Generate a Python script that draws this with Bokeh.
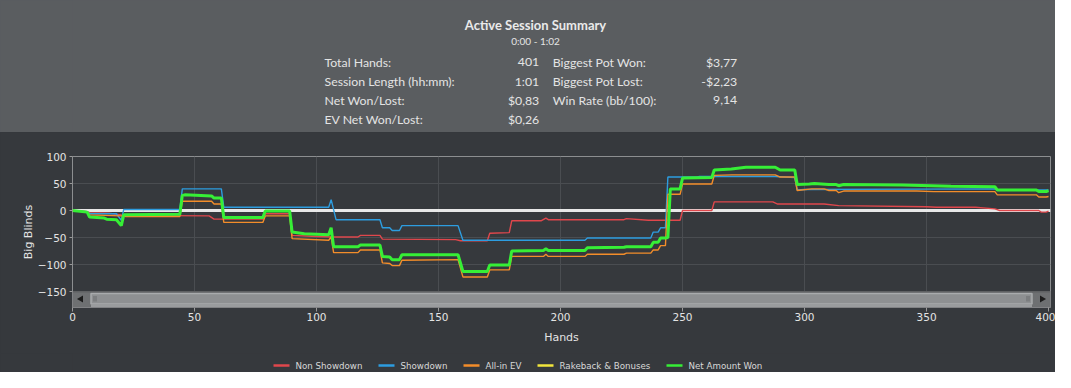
from bokeh.plotting import figure
from bokeh.models import Range1d, FixedTicker
from bokeh.layouts import column
from bokeh.embed import file_html
from bokeh.resources import INLINE
from bokeh.core.properties import value

# ---------------- data ----------------
title_text = "Active Session Summary"
subtitle_text = "0:00 - 1:02"
left_labels = ["Total Hands:", "Session Length (hh:mm):", "Net Won/Lost:", "EV Net Won/Lost:"]
left_values = ["401", "1:01", "$0,83", "$0,26"]
right_labels = ["Biggest Pot Won:", "Biggest Pot Lost:", "Win Rate (bb/100):"]
right_values = ["$3,77", "-$2,23", "9,14"]

series_names = ["Non Showdown", "Showdown", "All-in EV", "Rakeback & Bonuses", "Net Amount Won"]
series_colors = ["#e0474c", "#2d9de0", "#f38d2a", "#f2e63c", "#36ef36"]

ns_hands = [0, 6, 7, 15, 20, 22, 56, 58, 78, 79, 89, 90, 100, 107, 117, 118, 126, 127, 157, 159,
            170, 171, 179, 180, 192, 194, 195, 226, 227, 236, 249, 250, 262, 263, 287, 289, 308, 314, 350,
            354, 370, 378, 380, 396, 397, 399, 400]
ns_vals = [0, -2, -4, -5, -8, -9, -10, -16, -16, -6, -6, -46, -48, -49, -49, -46, -46, -53, -54, -56,
           -56, -42, -41, -19, -19, -14, -17, -17, -15, -18, -18, 0, 0, 16, 16, 12, 12, 9, 7,
           6, 6, 3, 0, 0, -3, -3, -1]

sd_hands = [0, 6, 7, 18, 20, 21, 44, 45, 61, 62, 105, 106, 108, 126, 127, 130, 131, 134, 135, 158,
            160, 210, 211, 237, 238, 240, 241, 243, 244, 256, 257, 288, 296, 297, 300, 378, 379, 400]
sd_vals = [0, -2, -6, -6, -18, 2, 2, 40, 40, 6, 6, 20, -17, -17, -32, -32, -37, -37, -28, -28,
           -55, -55, -51, -51, -40, -40, -32, -32, 62, 62, 63, 63, 61, 38, 39, 40, 38, 38]

ev_hands = [0, 6, 7, 20, 22, 44, 45, 57, 58, 61, 62, 78, 79, 89, 90, 105, 106, 107, 117, 118,
            126, 127, 130, 131, 134, 135, 158, 160, 170, 171, 179, 180, 193, 194, 195, 210, 211, 226, 227, 237,
            238, 240, 241, 243, 244, 249, 250, 262, 263, 270, 288, 290, 296, 297, 303, 308, 310, 313, 314, 316,
            346, 353, 378, 379, 395, 396, 399, 400]
ev_vals = [0, -2, -8, -10, -11, -11, 17, 17, 12, 12, -22, -22, -10, -10, -52, -55, -49, -78, -78, -73,
           -73, -97, -98, -102, -102, -92, -91, -123, -123, -110, -110, -85, -85, -81, -85, -85, -81, -81, -79, -79,
           -73, -73, -65, -65, 30, 30, 49, 49, 65, 66, 66, 62, 62, 37, 40, 40, 37, 37, 33, 36,
           36, 35, 35, 29, 29, 25, 25, 26]

rb_hands = [0, 400]
rb_vals = [0, 0]

net_hands = [0, 6, 7, 13, 14, 18, 20, 21, 44, 45, 46, 57, 58, 61, 62, 78, 79, 89, 90, 95,
             105, 106, 107, 117, 118, 126, 127, 130, 131, 134, 135, 158, 160, 170, 171, 179, 180, 193, 194, 195,
             210, 211, 226, 227, 237, 238, 240, 241, 243, 244, 245, 249, 250, 262, 263, 270, 276, 288, 290, 296,
             297, 302, 304, 310, 313, 314, 316, 340, 360, 378, 379, 395, 396, 399, 400]
net_vals = [0, -3, -12, -14, -16, -17, -28, -8, -7, 28, 29, 27, 23, 23, -13, -13, -1, -1, -40, -43,
            -45, -32, -67, -67, -64, -64, -85, -86, -91, -91, -82, -82, -113, -113, -101, -101, -75, -74, -71, -74,
            -74, -69, -68, -67, -67, -59, -59, -51, -51, -50, 40, 40, 60, 61, 75, 77, 80, 80, 75, 75,
            48, 49, 50, 48, 48, 46, 48, 47, 45, 44, 38, 38, 35, 35, 37]

x_ticks = [0, 50, 100, 150, 200, 250, 300, 350, 400]
y_ticks = [-150, -100, -50, 0, 50, 100]

# ---------------- style / layout ----------------
HEADER_BG = "#5a5d60"
DARK_BG = "#36393d"
TEXT = "#e4e4e4"
W = 1055
BL, BR = 72, 5            # left / right border shared by all strips (frames align)
FW = W - BL - BR           # 978

def strip(height, bg):
    f = figure(width=W, height=height, x_range=Range1d(BL, BL + FW), y_range=Range1d(height, 0),
               toolbar_location=None, output_backend="svg", x_axis_type=None, y_axis_type=None,
               min_border_left=BL, min_border_right=BR, min_border_top=0, min_border_bottom=0,
               styles={"background-color": bg})
    f.grid.visible = False
    f.outline_line_color = None
    f.background_fill_color = bg
    f.border_fill_color = bg
    return f

# ---------------- header ----------------
hdr = strip(132, HEADER_BG)
F = value("Lato")
hdr.text(x=[535], y=[24], text=[title_text], text_font=F, text_font_size="13px",
         text_font_style="bold", text_color="#eaeaea", text_align="center", text_baseline="middle")
hdr.text(x=[535], y=[40], text=[subtitle_text], text_font=F, text_font_size="10px",
         text_color=TEXT, text_align="center", text_baseline="middle")
row_y = [61.5, 80.5, 99.5, 118.5]
hdr.text(x=[324] * 4, y=row_y, text=left_labels, text_font=F, text_font_size="12.3px",
         text_color=TEXT, text_align="left", text_baseline="middle")
hdr.text(x=[538.7] * 4, y=row_y, text=left_values, text_font=F, text_font_size="12.3px",
         text_color=TEXT, text_align="right", text_baseline="middle")
hdr.text(x=[552.3] * 3, y=row_y[:3], text=right_labels, text_font=F, text_font_size="12.3px",
         text_color=TEXT, text_align="left", text_baseline="middle")
hdr.text(x=[736.7] * 3, y=row_y[:3], text=right_values, text_font=F, text_font_size="12.3px",
         text_color=TEXT, text_align="right", text_baseline="middle")

# ---------------- main chart ----------------
X0, X1 = 0, 400.8
Y0, Y1 = -179.6, 100
FH = 151
p = figure(width=W, height=221, x_range=Range1d(X0, X1), y_range=Range1d(Y0, Y1),
           toolbar_location=None, output_backend="svg",
           min_border_left=BL, min_border_right=BR, min_border_top=24, min_border_bottom=46,
           styles={"background-color": DARK_BG})
p.background_fill_color = DARK_BG
p.border_fill_color = DARK_BG
p.outline_line_color = "#8c8e90"
p.outline_line_width = 1

for ax in (p.xaxis, p.yaxis):
    ax.axis_line_color = None
    ax.major_tick_line_color = "#9a9a9a"
    ax.minor_tick_line_color = None
    ax.major_tick_in = 0
    ax.major_label_text_color = TEXT
    ax.major_label_text_font = "DejaVu Sans"
    ax.major_label_text_font_size = "10.5px"
    ax.axis_label_text_color = TEXT
    ax.axis_label_text_font = "DejaVu Sans"
    ax.axis_label_text_font_size = "11px"
    ax.axis_label_text_font_style = "normal"
p.xaxis.ticker = FixedTicker(ticks=x_ticks)
p.yaxis.ticker = FixedTicker(ticks=y_ticks)
p.xaxis.major_tick_out = 4
p.yaxis.major_tick_out = 3
p.xaxis.major_label_standoff = 1
p.yaxis.major_label_standoff = 3
p.xaxis.axis_label = "Hands"
p.yaxis.axis_label = "Big Blinds"
p.xaxis.axis_label_standoff = 7
p.yaxis.axis_label_standoff = 0

p.xgrid.ticker = FixedTicker(ticks=x_ticks[1:-1])
p.ygrid.ticker = FixedTicker(ticks=[-100, -50, 50])
p.grid.grid_line_color = "#4a4d51"
p.grid.grid_line_width = 1

# series (yellow lies under the zero line)
p.line(rb_hands, rb_vals, line_color=series_colors[3], line_width=1.5)
p.line([X0, X1], [0, 0], line_color="#e8e8e8", line_width=3)
p.line(ns_hands, ns_vals, line_color=series_colors[0], line_width=1.4)
p.line(sd_hands, sd_vals, line_color=series_colors[1], line_width=1.4)
p.line(ev_hands, ev_vals, line_color=series_colors[2], line_width=1.4)
p.line(net_hands, net_vals, line_color=series_colors[4], line_width=3)

# scrollbar decoration (pixel helpers relative to the frame)
sx = (X1 - X0) / FW
sy = (Y1 - Y0) / FH
def dx(px):
    return X0 + px * sx
def dy(py):
    return Y1 - py * sy
sb_top, sb_bot = 134.5, 151
p.quad(left=[X0], right=[X1], top=[dy(sb_top)], bottom=[dy(sb_bot)],
       fill_color="#5f6163", line_color=None)
p.quad(left=[dx(0.5)], right=[dx(18.5)], top=[dy(sb_top + 1.5)], bottom=[dy(sb_bot - 0.5)],
       fill_color="#6e7072", line_color=None)
p.quad(left=[dx(FW - 18.5)], right=[dx(FW - 0.5)], top=[dy(sb_top + 1.5)], bottom=[dy(sb_bot - 0.5)],
       fill_color="#6e7072", line_color=None)
p.quad(left=[dx(18.5)], right=[dx(FW - 18.5)], top=[dy(sb_top + 2.5)], bottom=[dy(sb_bot - 3.5)],
       fill_color="#8e9092", line_color="#a9abad", line_width=1.5)
p.quad(left=[dx(18.5)], right=[dx(FW - 18.5)], top=[dy(sb_bot - 3.5)], bottom=[dy(sb_bot - 0.5)],
       fill_color="#9a9c9e", line_color=None)
p.scatter(x=[dx(8.5)], y=[dy(142.5)], marker="triangle", size=7, angle=1.5708,
          fill_color="#1c1c1c", line_color=None)
p.scatter(x=[dx(FW - 8.5)], y=[dy(142.5)], marker="triangle", size=7, angle=-1.5708,
          fill_color="#1c1c1c", line_color=None)
p.segment(x0=[dx(21.5), dx(23.5), dx(FW - 23.5), dx(FW - 21.5)],
          y0=[dy(139.5)] * 4,
          x1=[dx(21.5), dx(23.5), dx(FW - 23.5), dx(FW - 21.5)],
          y1=[dy(145)] * 4, line_color="#6a6c6e", line_width=1)

# ---------------- legend strip ----------------
leg = strip(19, DARK_BG)
leg_x = [273, 378, 463, 537, 666]
leg.segment(x0=leg_x, y0=[12] * 5, x1=[x + 16 for x in leg_x], y1=[12] * 5,
            line_color=series_colors, line_width=2.7)
leg.text(x=[x + 22 for x in leg_x], y=[12] * 5, text=series_names, text_font=value("DejaVu Sans"),
         text_font_size="8.7px", text_color="#d8d8d8", text_align="left", text_baseline="middle")

layout = column(hdr, p, leg, spacing=0, styles={"background-color": DARK_BG})
open("out.html", "w").write(file_html(layout, INLINE))
